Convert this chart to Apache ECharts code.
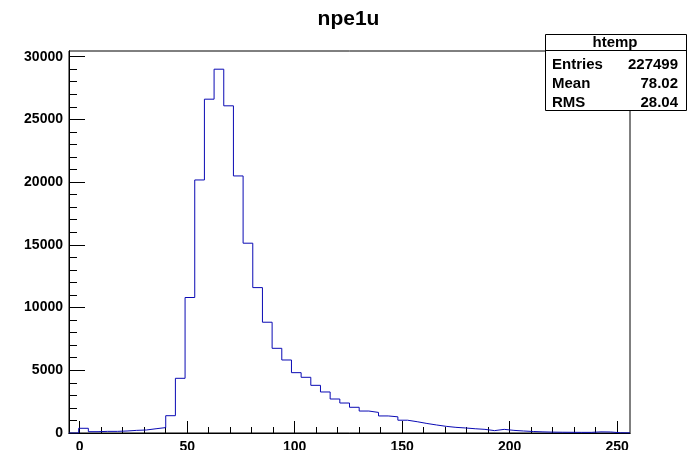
<!DOCTYPE html>
<html>
<head>
<meta charset="utf-8">
<script src="https://cdn.jsdelivr.net/npm/echarts@6/dist/echarts.min.js"></script>
<style>
html,body{margin:0;padding:0;background:#fff;}
#c{width:697px;height:450px;}
</style>
</head>
<body>
<div id="c"></div>
<script>
// ---- data ----
const titleText = 'npe1u';
const xMin = -5;
const binWidth = 4.5;
const xMax = 256;
const yMax = 30450;
const counts = [
  0, 375, 105, 130, 130, 160, 210, 240, 340, 430,
  1380, 4360, 10800, 20170, 26610, 29000, 26080, 20490, 15130, 11590,
  8830, 6750, 5820, 4810, 4440, 3800, 3270, 2710, 2390, 2050,
  1750, 1640, 1360, 1290, 1020, 900, 760, 640, 530, 450,
  400, 340, 290, 190, 290, 210, 160, 120, 90, 70,
  60, 55, 50, 50, 90, 80, 20, 10
];
const xMajorTicks = [0, 50, 100, 150, 200, 250];
const yMajorTicks = [0, 5000, 10000, 15000, 20000, 25000, 30000];
const statTitle = 'htemp';
const statNames = ['Entries', 'Mean', 'RMS'];
const statValues = ['227499', '78.02', '28.04'];

// ---- build ----
const xMinorTicks = [];
for (let v = 10; v < xMax; v += 10) if (xMajorTicks.indexOf(v) < 0) xMinorTicks.push(v);
const yMinorTicks = [];
for (let v = 1000; v < yMax; v += 1000) if (yMajorTicks.indexOf(v) < 0) yMinorTicks.push(v);

const stepData = counts.map((c, i) => [xMin + i * binWidth, c]);
stepData.push([xMin + counts.length * binWidth, counts[counts.length - 1]]);

const FONT = '"Liberation Sans", Arial, Helvetica, sans-serif';
const chart = echarts.init(document.getElementById('c'), null, {renderer: 'canvas'});

const rowY = [64.5, 84, 102.5];
const statElems = [
  {type: 'rect', shape: {x: 545.5, y: 34.5, width: 141, height: 76}, style: {fill: '#fff', stroke: '#000', lineWidth: 1}},
  {type: 'line', shape: {x1: 545.5, y1: 50.5, x2: 686.5, y2: 50.5}, style: {stroke: '#000', lineWidth: 1}},
  {type: 'text', x: 615, y: 43, style: {text: statTitle, align: 'center', verticalAlign: 'middle', font: 'bold 15px ' + FONT, fill: '#000'}}
];
statNames.forEach((n, i) => {
  statElems.push({type: 'text', x: 552, y: rowY[i], style: {text: n, align: 'left', verticalAlign: 'middle', font: 'bold 15px ' + FONT, fill: '#000'}});
  statElems.push({type: 'text', x: 678, y: rowY[i], style: {text: statValues[i], align: 'right', verticalAlign: 'middle', font: 'bold 15px ' + FONT, fill: '#000'}});
});

const axisCommon = {
  type: 'value',
  splitLine: {show: false},
  axisLine: {show: true, onZero: false, lineStyle: {color: '#000', width: 1}}
};
const plain = v => String(v);

chart.setOption({
  animation: false,
  backgroundColor: '#fff',
  title: {
    text: titleText, left: 'center', top: 4,
    textStyle: {fontFamily: FONT, fontSize: 21, fontWeight: 'bold', color: '#000'}
  },
  grid: {left: 69, right: 67, top: 51, bottom: 17, show: true, borderColor: '#000', borderWidth: 1, backgroundColor: 'transparent', containLabel: false, outerBoundsMode: 'none'},
  xAxis: [
    Object.assign({}, axisCommon, {
      min: xMin, max: xMax, position: 'bottom',
      axisTick: {show: true, inside: true, length: 12, customValues: xMajorTicks, lineStyle: {color: '#000'}},
      axisLabel: {show: true, customValues: xMajorTicks, formatter: plain, margin: 7, fontFamily: FONT, fontSize: 14, fontWeight: 'bold', color: '#000'}
    }),
    Object.assign({}, axisCommon, {
      min: xMin, max: xMax, position: 'bottom', offset: 0,
      axisTick: {show: true, inside: true, length: 6, customValues: xMinorTicks, lineStyle: {color: '#000'}},
      axisLabel: {show: false}
    })
  ],
  yAxis: [
    Object.assign({}, axisCommon, {
      min: 0, max: yMax, position: 'left',
      axisTick: {show: true, inside: true, length: 16, customValues: yMajorTicks, lineStyle: {color: '#000'}},
      axisLabel: {show: true, customValues: yMajorTicks, formatter: plain, margin: 6, fontFamily: FONT, fontSize: 14, fontWeight: 'bold', color: '#000'}
    }),
    Object.assign({}, axisCommon, {
      min: 0, max: yMax, position: 'left', offset: 0,
      axisTick: {show: true, inside: true, length: 8, customValues: yMinorTicks, lineStyle: {color: '#000'}},
      axisLabel: {show: false}
    })
  ],
  series: [{
    type: 'line',
    xAxisIndex: 0, yAxisIndex: 0,
    step: 'end',
    data: stepData,
    showSymbol: false,
    symbol: 'none',
    silent: true,
    lineStyle: {color: '#0a0ab4', width: 1},
    z: 3
  }],
  graphic: [{type: 'group', z: 100, children: statElems}]
});
</script>
</body>
</html>
